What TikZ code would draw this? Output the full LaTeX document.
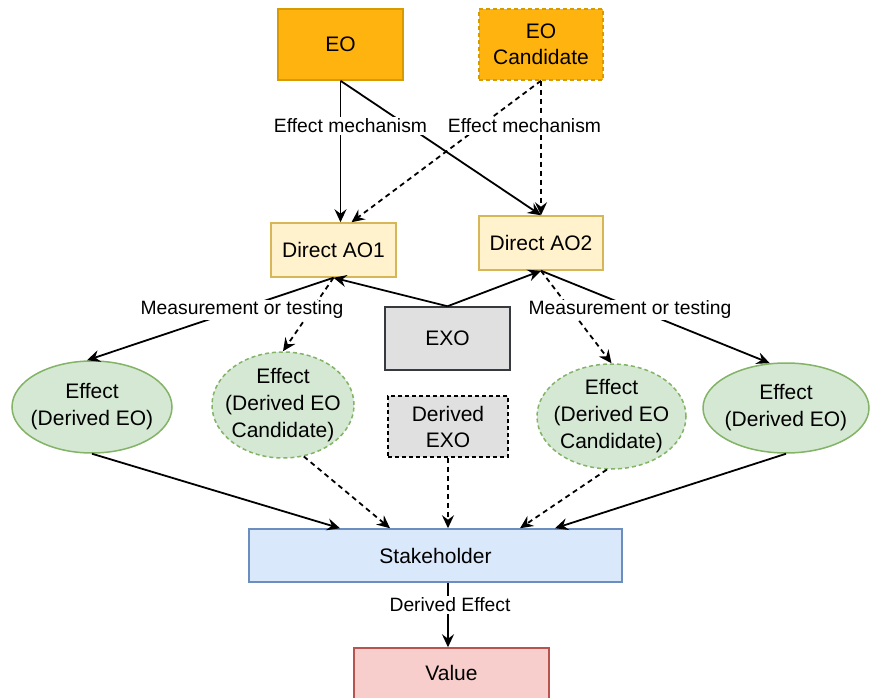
\documentclass[tikz,border=0pt]{standalone}
\usepackage{fontspec}
\setmainfont{Liberation Sans}
\usetikzlibrary{arrows.meta,shapes.geometric,calc}

\definecolor{eofill}{HTML}{FFB30F}
\definecolor{eoline}{HTML}{D79B00}
\definecolor{aofill}{HTML}{FFF2CC}
\definecolor{aoline}{HTML}{D6B656}
\definecolor{exofill}{HTML}{E0E0E0}
\definecolor{exoline}{HTML}{36393D}
\definecolor{effill}{HTML}{D5E8D4}
\definecolor{efline}{HTML}{82B366}
\definecolor{skfill}{HTML}{DAE8FC}
\definecolor{skline}{HTML}{6C8EBF}
\definecolor{valfill}{HTML}{F8CECC}
\definecolor{valline}{HTML}{B85450}

\tikzset{
  box/.style={rectangle, inner sep=0pt, line width=1.5pt, align=center,
    font=\fontsize{21}{26}\selectfont},
  % ellipse outline; its text is a centred label so it does not grow the shape
  blob/.style 2 args={ellipse, inner sep=0pt, line width=1.5pt,
    draw=efline, fill=effill,
    label={[align=center, font=\fontsize{21}{27}\selectfont]center:{#2}}, #1},
  dashbox/.style={dash pattern=on 4pt off 3pt},
  conn/.style={line width=1.8pt, -{Stealth[length=13pt,width=12pt,inset=4.5pt]}},
  dconn/.style={conn, dash pattern=on 5pt off 4pt},
  lbl/.style={fill=white, inner sep=1.5pt, font=\fontsize{19.3}{23}\selectfont}
}

\begin{document}
\begin{tikzpicture}[x=1pt,y=-1pt]
\useasboundingbox (0,0) rectangle (871,698);
\begin{scope}
\clip (0,0) rectangle (871,698);

% object boxes
\node[box, draw=eoline, fill=eofill, minimum width=125pt, minimum height=71pt] (eo) at (340.5,44.5) {EO};
\node[box, dashbox, draw=eoline, fill=eofill, minimum width=124pt, minimum height=71pt] (eoc) at (541,44.5) {EO\\Candidate};
\node[box, draw=aoline, fill=aofill, minimum width=125pt, minimum height=54pt] (ao1) at (333.5,250) {Direct AO1};
\node[box, draw=aoline, fill=aofill, minimum width=124pt, minimum height=54pt] (ao2) at (541,243) {Direct AO2};
\node[box, draw=exoline, fill=exofill, minimum width=125pt, minimum height=63pt] (exo) at (447.5,338.5) {EXO};
\node[box, dashbox, draw=black, fill=exofill, minimum width=120pt, minimum height=61pt] (dexo) at (448,426.5) {Derived\\EXO};

% effects
\node[blob={minimum width=160pt, minimum height=92pt}{Effect\\(Derived EO)}] (ell1) at (92,407) {};
\node[blob={dashbox, minimum width=142pt, minimum height=106pt}{Effect\\(Derived EO\\Candidate)}] (ell2) at (283,405) {};
\node[blob={dashbox, minimum width=149pt, minimum height=105pt}{Effect\\(Derived EO\\Candidate)}] (ell3) at (611.5,416.5) {};
\node[blob={minimum width=166pt, minimum height=90pt}{Effect\\(Derived EO)}] (ell4) at (786,408) {};

% stakeholder and value
\node[box, draw=skline, fill=skfill, minimum width=373pt, minimum height=53pt] (stake) at (435.5,555.5) {Stakeholder};
\node[box, draw=valline, fill=valfill, minimum width=195pt, minimum height=60pt] (value) at (451.5,678) {};
\node[font=\fontsize{21}{26}\selectfont] (valtxt) at (451.5,673) {Value};

% effect mechanisms
\draw[conn] (eo.south) -- (eo.south |- ao1.north);
\draw[conn] (eo.south) -- (ao2.north);
\draw[dconn] (eoc.south) -- ([xshift=18pt]ao1.north);
\draw[dconn] (eoc.south) -- (ao2.north);

% EXO influence
\draw[conn] (exo.north) -- (ao1.south);
\draw[conn] (exo.north) -- (ao2.south);

% measurement or testing
\draw[conn] (ao1.south) -- ([xshift=-5pt]ell1.north);
\draw[dconn] (ao1.south) -- (ell2.north);
\draw[dconn] (ao2.south) -- (ell3.north);
\draw[conn] (ao2.south) -- (ell4.110);

% effects reaching the stakeholder
\draw[conn] (ell1.south) -- ([xshift=-95.5pt]stake.north);
\draw[dconn] (ell2.-68) -- ([xshift=-45.5pt]stake.north);
\draw[dconn] (dexo.south) -- (dexo.south |- stake.north);
\draw[dconn] (ell3.-95) -- ([xshift=84.5pt]stake.north);
\draw[conn] (ell4.south) -- ([xshift=119.5pt]stake.north);

% derived effect
\draw[conn] ([xshift=12.5pt]stake.south) -- ([xshift=-3.5pt]value.north);

% edge labels
\node[lbl] (l1) at (350.5,126) {Effect mechanism};
\node[lbl] (l2) at (524.5,126) {Effect mechanism};
\node[lbl] (l3) at (242,310) {Measurement or testing};
\node[lbl] (l4) at (630,310) {Measurement or testing};
\node[lbl] (l5) at (450,605) {Derived Effect};
\end{scope}
\end{tikzpicture}
\end{document}
